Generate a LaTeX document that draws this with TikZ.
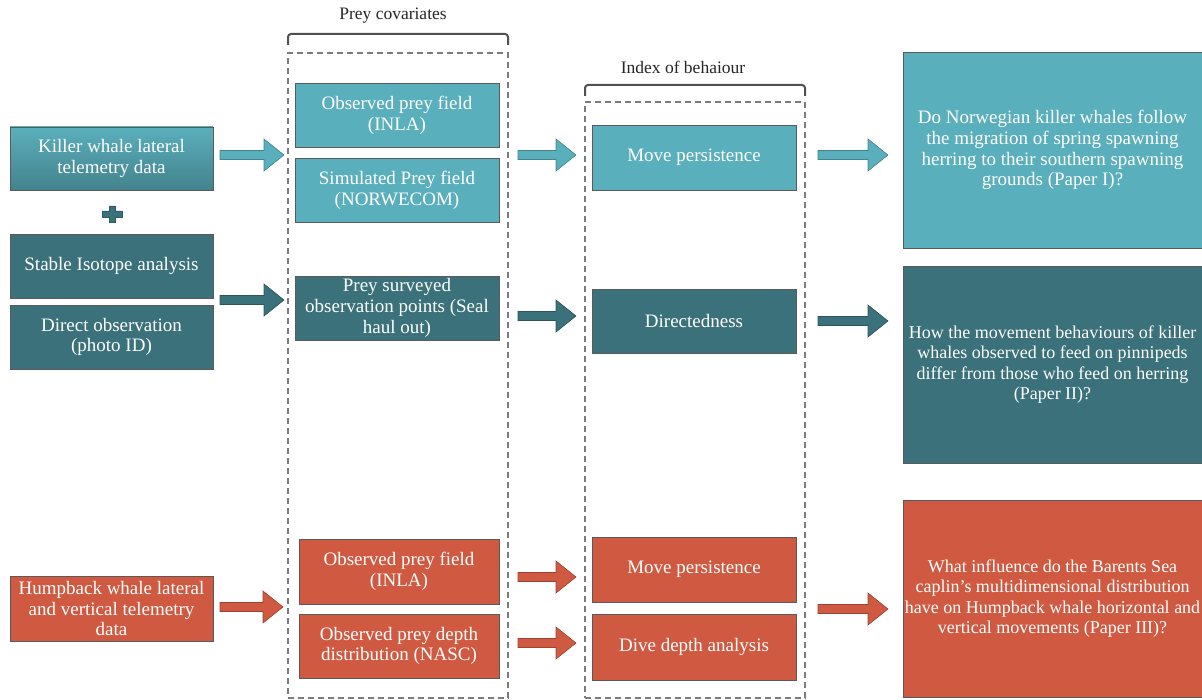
\documentclass[tikz,border=0pt]{standalone}
\usepackage{fontspec}
\setmainfont{Liberation Serif}
\definecolor{tealL}{HTML}{5AAFBC}
\definecolor{tealD}{HTML}{3A717A}
\definecolor{orng}{HTML}{D05A41}
\definecolor{brd}{HTML}{5A5A5A}
\newcommand\blockarr[4]{%
  \filldraw[fill=#4, draw=#4!75!black, line width=0.6pt]
    (#1,#3-4.5) -- (#2-20,#3-4.5) -- (#2-20,#3-16) -- (#2,#3) -- (#2-20,#3+16) -- (#2-20,#3+4.5) -- (#1,#3+4.5) -- cycle;}
\tikzset{
  box/.style={draw=brd, line width=0.7pt, fill=#1, text=white, align=center, inner sep=0pt,
    font=\fontsize{19}{20.8}\selectfont},
  qfont/.style={font=\fontsize{18}{20.5}\selectfont},
  dashbox/.style={draw=brd!80, dash pattern=on 6pt off 4pt, line width=1.1pt, inner sep=0pt},
  bracket/.style={draw=brd!90!black, line width=2pt, rounded corners=3pt},
  lbl/.style={font=\fontsize{17.5}{20}\selectfont, text=black!85}
}
\begin{document}
\begin{tikzpicture}[x=1pt,y=-1pt]
\useasboundingbox (0,0) rectangle (1202,700);
% column 1
\node[box=tealL, shading=axis, top color=tealL, bottom color=tealL!65!tealD!85!black, minimum width=203pt, minimum height=63pt] (kw) at (111.5,158.5) {Killer whale lateral\\telemetry data};
\filldraw[fill=tealD, draw=tealD!80!black, line width=0.5pt] (102,211) -- (109,211) -- (109,206) -- (115,206) -- (115,211) -- (122,211) -- (122,217) -- (115,217) -- (115,222) -- (109,222) -- (109,217) -- (102,217) -- cycle;
\node[box=tealD, minimum width=203pt, minimum height=64pt] (iso) at (111.5,266) {Stable Isotope analysis};
\node[box=tealD, minimum width=203pt, minimum height=64pt] (dobs) at (111.5,337) {Direct observation\\(photo ID)};
\node[box=orng, minimum width=203pt, minimum height=65pt] (hb) at (111.5,608.5) {Humpback whale lateral\\and vertical telemetry\\data};
% column 2
\node[dashbox, minimum width=220pt, minimum height=645pt] (dash1) at (398,375.5) {};
\draw[bracket] (288,45) -- (288,34) -- (508,34) -- (508,45);
\node[lbl] (lab1) at (393,16) {Prey covariates};
\node[box=tealL, minimum width=204pt, minimum height=64pt] (opf) at (397,115) {Observed prey field\\(INLA)};
\node[box=tealL, minimum width=204pt, minimum height=64pt] (spf) at (397,190) {Simulated Prey field\\(NORWECOM)};
\node[box=tealD, minimum width=204pt, minimum height=64pt] (psp) at (397,308) {Prey surveyed\\observation points (Seal\\haul out)};
\node[box=orng, minimum width=200pt, minimum height=65pt] (opf2) at (399,571.5) {Observed prey field\\(INLA)};
\node[box=orng, minimum width=200pt, minimum height=64pt] (opd) at (399,646) {Observed prey depth\\distribution (NASC)};
% column 3
\node[dashbox, minimum width=220pt, minimum height=596pt] (dash2) at (695,400) {};
\draw[bracket] (585,96) -- (585,85) -- (805,85) -- (805,96);
\node[lbl] (lab2) at (683,67) {Index of behaiour};
\node[box=tealL, minimum width=204pt, minimum height=65pt] (mp) at (694,157.5) {Move persistence};
\node[box=tealD, minimum width=204pt, minimum height=64pt] (dd) at (694,321) {Directedness};
\node[box=orng, minimum width=204pt, minimum height=65pt] (mp2) at (694,569.5) {Move persistence};
\node[box=orng, minimum width=204pt, minimum height=66pt] (dda) at (694,647) {Dive depth analysis};
% column 4
\node[box=tealL, minimum width=299pt, minimum height=196pt] (q1) at (1052.5,150) {Do Norwegian killer whales follow\\the migration of spring spawning\\herring to their southern spawning\\grounds (Paper I)?};
\node[box=tealD, qfont, minimum width=299pt, minimum height=197pt] (q2) at (1052.5,364.5) {How the movement behaviours of killer\\whales observed to feed on pinnipeds\\differ from those who feed on herring\\(Paper II)?};
\node[box=orng, qfont, minimum width=299pt, minimum height=197pt] (q3) at (1052.5,598.5) {What influence do the Barents Sea\\caplin’s multidimensional distribution\\have on Humpback whale horizontal and\\vertical movements (Paper III)?};
% block arrows
\blockarr{220}{284}{155}{tealL}
\blockarr{220}{284}{300}{tealD}
\blockarr{220}{283}{607}{orng}
\blockarr{518}{576}{155}{tealL}
\blockarr{518}{576}{316}{tealD}
\blockarr{518}{576}{577}{orng}
\blockarr{518}{576}{643}{orng}
\blockarr{818}{888}{155}{tealL}
\blockarr{818}{888}{321}{tealD}
\blockarr{818}{888}{609}{orng}
\end{tikzpicture}
\end{document}
